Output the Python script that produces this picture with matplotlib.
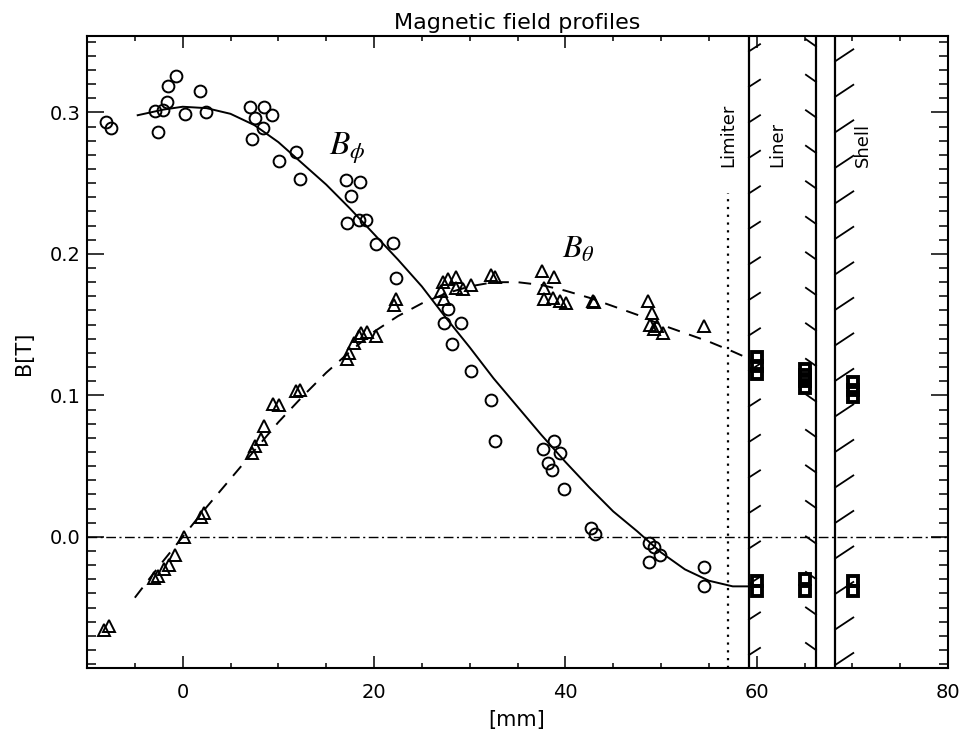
import numpy as np
import matplotlib
matplotlib.use("Agg")
import matplotlib.pyplot as plt
from matplotlib.ticker import MultipleLocator

plt.rcParams['font.family'] = ['DejaVu Sans']
plt.rcParams['mathtext.fontset'] = 'stix'

# measured B_phi (circles)
bphi_x = [-8.05, -7.5, -2.9, -2.6, -2.1, -1.6, -1.5, -0.7, 0.2, 1.8, 2.4,
          7.0, 7.6, 8.5, 9.3, 8.4, 7.2, 10.1, 11.8, 12.3,
          17.05, 18.5, 17.6, 17.2, 18.4, 19.2, 20.2, 22.0, 22.3,
          27.7, 27.3, 29.1, 28.2, 30.1, 32.2, 32.6,
          37.7, 38.8, 39.4, 38.2, 38.6, 39.9, 42.7, 43.1,
          48.7, 49.3, 49.85, 48.7, 54.5, 54.5]
bphi_y = [0.293, 0.289, 0.301, 0.286, 0.302, 0.307, 0.319, 0.326, 0.299, 0.315, 0.300,
          0.304, 0.296, 0.304, 0.298, 0.289, 0.281, 0.266, 0.272, 0.253,
          0.252, 0.251, 0.241, 0.222, 0.224, 0.224, 0.207, 0.208, 0.183,
          0.161, 0.151, 0.151, 0.136, 0.117, 0.097, 0.068,
          0.062, 0.068, 0.059, 0.052, 0.047, 0.034, 0.006, 0.002,
          -0.004, -0.007, -0.013, -0.018, -0.021, -0.035]

# measured B_theta (triangles)
bth_x = [-8.2, -7.7, -3.0, -2.6, -2.0, -1.4, -0.8, 0.1, 1.9, 2.2,
         7.2, 7.6, 8.2, 8.5, 9.4, 10.1, 11.8, 12.3,
         17.2, 17.4, 17.9, 18.4, 18.6, 19.3, 20.2, 22.1, 22.3,
         27.2, 27.0, 27.3, 27.7, 28.6, 28.6, 29.3, 30.1, 32.2, 32.6,
         37.6, 38.8, 37.8, 37.8, 38.7, 39.4, 40.1, 42.9, 43.0,
         48.6, 49.1, 48.8, 49.6, 49.3, 50.2, 54.5]
bth_y = [-0.066, -0.063, -0.029, -0.028, -0.023, -0.020, -0.013, 0.0, 0.014, 0.017,
         0.059, 0.064, 0.069, 0.078, 0.094, 0.093, 0.103, 0.104,
         0.126, 0.130, 0.137, 0.142, 0.144, 0.145, 0.142, 0.164, 0.168,
         0.180, 0.174, 0.168, 0.182, 0.184, 0.176, 0.175, 0.178, 0.185, 0.184,
         0.188, 0.184, 0.176, 0.168, 0.169, 0.167, 0.165, 0.167, 0.166,
         0.167, 0.158, 0.150, 0.149, 0.147, 0.144, 0.149]

# wall probe values (squares)
sq_x = [60.0, 60.0, 60.0, 65.1, 65.1, 65.1, 65.1, 70.1, 70.1, 70.1,
        60.0, 60.0, 65.0, 65.0, 70.1, 70.1]
sq_y = [0.127, 0.121, 0.115, 0.1185, 0.1143, 0.110, 0.1055, 0.1095, 0.104, 0.0985,
        -0.031, -0.038, -0.030, -0.038, -0.031, -0.038]

# fitted profiles
fit_phi_x = [-4.7, -2, 0, 2.5, 5, 7.5, 10, 12.5, 15, 17.5, 20, 22.5, 25, 27.5, 30,
             32.5, 35, 37.5, 40, 42.5, 45, 47.5, 50, 52.5, 55, 57.5, 60]
fit_phi_y = [0.298, 0.302, 0.304, 0.303, 0.299, 0.291, 0.279, 0.264, 0.249, 0.232,
             0.214, 0.196, 0.177, 0.155, 0.134, 0.112, 0.092, 0.072, 0.053, 0.035,
             0.018, 0.004, -0.011, -0.023, -0.031, -0.035, -0.035]
fit_th_x = [-5, -2.5, 0, 2.5, 5, 7.5, 10, 12.5, 15, 17.5, 20, 22.5, 25, 27.5, 30,
            32.5, 35, 37.5, 40, 42.5, 45, 47.5, 50, 52.5, 55, 57.5, 59.5]
fit_th_y = [-0.043, -0.021, 0.0, 0.021, 0.041, 0.061, 0.081, 0.099, 0.116, 0.131,
            0.145, 0.156, 0.165, 0.172, 0.177, 0.180, 0.180, 0.178, 0.174, 0.169,
            0.163, 0.157, 0.150, 0.144, 0.138, 0.131, 0.125]

# geometry
limiter_x = 57.0
liner_in, liner_out, shell_in = 59.2, 66.2, 68.2

xlim = (-10, 80)
ylim = (-0.0927, 0.354)

fig = plt.figure(figsize=(9.63, 7.36), dpi=100)
W, H = 963.0, 736.0
ax = fig.add_axes([87 / W, 1 - 668 / H, (948 - 87) / W, (668 - 36) / H])
ax.set_xlim(*xlim)
ax.set_ylim(*ylim)

# zero line
ax.axhline(0, color='k', lw=1.0, ls=(0, (7, 2.5, 1.5, 2.5)), zorder=1)

# fits
ax.plot(fit_phi_x, fit_phi_y, color='k', lw=1.4, zorder=2)
ax.plot(fit_th_x, fit_th_y, color='k', lw=1.4, ls=(0, (6.5, 5)), zorder=2)

# data
ax.plot(bphi_x, bphi_y, 'o', ms=8.5, mfc='none', mec='k', mew=1.4, zorder=3)
ax.plot(bth_x, bth_y, '^', ms=8.5, mfc='none', mec='k', mew=1.4, zorder=3)
ax.plot(sq_x, sq_y, 's', ms=7.5, mfc='none', mec='k', mew=2.8, zorder=3)

# limiter (dotted) and walls
ax.plot([limiter_x, limiter_x], [ylim[0], 0.243], color='k', lw=1.6,
        ls=(0, (1, 2.5)), zorder=2)
for xw in (liner_in, liner_out, shell_in):
    ax.axvline(xw, color='k', lw=1.6, zorder=2)

# hatch strokes on walls
step = 0.0251
for xw, y0, dx, dy in [(liner_in, -0.0835, 1.15, 0.005),
                       (liner_out, -0.0800, -1.05, 0.005),
                       (shell_in, -0.0906, 1.9, 0.0085)]:
    for yb in np.arange(y0, ylim[1], step):
        ax.plot([xw, xw + dx], [yb, yb + dy], color='k', lw=1.3, zorder=2)

# labels inside
lab_y = (537 - 168) / 1413.0
ax.text(limiter_x, lab_y, 'Limiter', rotation=90, ha='center', va='bottom', fontsize=13)
ax.text(62.2, lab_y, 'Liner', rotation=90, ha='center', va='bottom', fontsize=13)
ax.text(71.1, lab_y, 'Shell', rotation=90, ha='center', va='bottom', fontsize=13)
ax.text(15.3, 0.270, r'$B_{\phi}$', fontsize=24, ha='left', va='baseline')
ax.text(39.7, 0.197, r'$B_{\theta}$', fontsize=23, ha='left', va='baseline')

# ticks
ax.set_xticks([0, 20, 40, 60, 80])
ax.set_yticks([0.0, 0.1, 0.2, 0.3])
ax.set_yticklabels(['0.0', '0.1', '0.2', '0.3'])
ax.xaxis.set_minor_locator(MultipleLocator(5))
ax.yaxis.set_minor_locator(MultipleLocator(0.01))
ax.tick_params(which='both', direction='in', top=True, right=True, width=1.1,
               labelsize=14, color='k')
ax.tick_params(axis='x', which='major', length=8.5, pad=11)
ax.tick_params(axis='x', which='minor', length=3.8)
ax.tick_params(axis='y', which='major', length=12.5, pad=4.5)
ax.tick_params(axis='y', which='minor', length=6.5)
for sp in ax.spines.values():
    sp.set_linewidth(1.5)

fig.text(517 / W, 1 - 29 / H, 'Magnetic field profiles', ha='center', va='baseline', fontsize=16)
fig.text(517 / W, 1 - 720 / H, '[mm]', ha='center', va='center', fontsize=15)
fig.text(24 / W, 1 - 353 / H, 'B[T]', rotation=90, ha='center', va='center', fontsize=15)

fig.savefig('out.png', dpi=100)
